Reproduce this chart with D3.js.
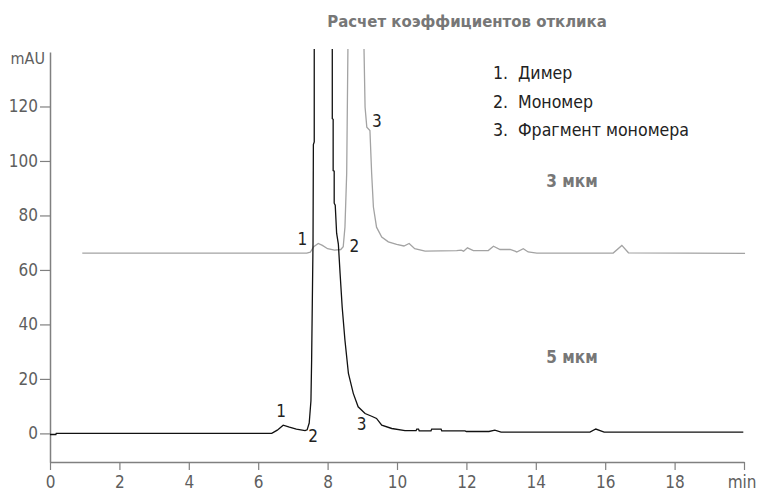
<!DOCTYPE html>
<html>
<head>
<meta charset="utf-8">
<script src="https://cdn.jsdelivr.net/npm/d3@7"></script>
<style>
  html, body { margin: 0; padding: 0; background: #fff; }
  svg { display: block; }
  text { font-family: "Liberation Sans Narrow", "DejaVu Sans Condensed", "Roboto", sans-serif; }
</style>
</head>
<body>
<svg id="chart" width="757" height="491"></svg>
<script>
// Retention times (min) and absorbance (mAU), 5 µm column trace
const time5 = [0.0, 0.17, 0.18, 6.39, 6.55, 6.72, 6.9, 7.1, 7.35, 7.41, 7.47, 7.52, 7.54, 7.58, 7.59, 7.615, 7.615,
  7.9, 8.135, 8.135, 8.16, 8.16, 8.19, 8.19, 8.22, 8.26, 8.31, 8.36, 8.42, 8.50, 8.60, 8.74, 8.88, 9.08, 9.27,
  9.41, 9.56, 9.85, 10.23,
  10.55, 10.57, 10.62, 10.64, 10.98, 11.0, 11.27, 11.29, 11.96, 12.0, 12.65, 12.82, 13.0, 15.56, 15.73, 15.97, 19.98];
const absorb5 = [-0.4, -0.4, 0.0, 0.0, 1.2, 3.0, 2.3, 1.6, 1.0, 1.3, 3.8, 12, 27, 70, 106, 107, 140.5,
  520, 140.5, 115.5, 115.3, 96.5, 96.3, 84.5, 83.8, 73.5, 69.5, 58.7, 46.4, 34.2, 22.0, 14.7, 9.75, 7.3, 6.3,
  5.5, 3.0, 1.8, 1.0,
  1.0, 1.6, 1.6, 0.95, 0.95, 1.6, 1.6, 0.95, 0.95, 0.7, 0.7, 1.2, 0.5, 0.5, 1.6, 0.5, 0.5];

// Retention times (min) and absorbance (mAU), 3 µm column trace
const time3 = [0.93, 7.4, 7.5, 7.6, 7.73, 7.85, 8.0, 8.2, 8.38, 8.45, 8.50, 8.55, 8.585, 8.82, 9.05, 9.08, 9.13, 9.22,
  9.27, 9.32, 9.41, 9.56, 9.75, 9.99, 10.2, 10.35, 10.51, 10.81, 11.72, 11.85, 11.92, 12.03, 12.2, 12.63, 12.78, 12.97,
  13.26, 13.4, 13.45, 13.64, 13.78, 14.03, 16.23, 16.48, 16.67, 20.03];
const absorb3 = [66.2, 66.2, 66.5, 68.5, 69.7, 69.0, 67.8, 67.3, 67.5, 68.5, 75.7, 95.4, 140.5, 500, 140.5, 119.7, 112.4, 111.2,
  95.3, 83.1, 75.7, 72.1, 70.3, 69.4, 68.8, 69.7, 67.8, 66.9, 67.1, 67.3, 66.9, 68.1, 67.1, 67.1, 68.7, 67.5,
  67.5, 66.9, 66.6, 67.8, 66.6, 66.2, 66.2, 69.0, 66.3, 66.1];

// Axis ticks
const xTicks = [0, 2, 4, 6, 8, 10, 12, 14, 16, 18, 20];
const yTicks = [0, 20, 40, 60, 80, 100, 120];

// Texts
const titleText = "Расчет коэффициентов отклика";
const legendNums = ["1.", "2.", "3."];
const legendNames = ["Димер", "Мономер", "Фрагмент мономера"];
const columnLabels = ["3 мкм", "5 мкм"];

// Peak number annotations, anchored in data units (min, mAU)
const peaks5 = [{t: 6.66, v: 6.0, n: "1"}, {t: 7.58, v: -3.0, n: "2"}, {t: 8.98, v: 1.2, n: "3"}];
const peaks3 = [{t: 7.27, v: 69.2, n: "1"}, {t: 8.77, v: 66.6, n: "2"}, {t: 9.42, v: 112.5, n: "3"}];

const svg = d3.select("#chart");
const x = d3.scaleLinear().domain([0, 20]).range([50, 744]);
const y = d3.scaleLinear().domain([-10.5, 140]).range([462, 52]);

const axisColor = "#808080";
const labelColor = "#5e5e5e";

// Clip traces to the plotting area
svg.append("defs").append("clipPath").attr("id", "plot")
  .append("rect").attr("x", 50).attr("y", 49).attr("width", 700).attr("height", 420);

// Y axis
const gy = svg.append("g").attr("transform", "translate(50,0)")
  .call(d3.axisLeft(y).tickValues(yTicks).tickSize(10).tickSizeOuter(0).tickPadding(2));
gy.select(".domain").attr("stroke", axisColor).attr("stroke-width", 1.5);
gy.selectAll(".tick line").attr("stroke", axisColor).attr("stroke-width", 1.2);
gy.selectAll(".tick text").attr("fill", labelColor).style("font-size", "17px");

svg.append("text").attr("x", 45).attr("y", 64).attr("text-anchor", "end")
  .attr("fill", labelColor).style("font-size", "16px").text("mAU");

// X axis; the last tick carries the unit instead of its number
const gx = svg.append("g").attr("transform", "translate(0,462)")
  .call(d3.axisBottom(x).tickValues(xTicks).tickSize(8).tickSizeOuter(0).tickPadding(6)
    .tickFormat(d => d === 20 ? "min" : d));
gx.select(".domain").attr("stroke", axisColor).attr("stroke-width", 1.5);
gx.selectAll(".tick line").attr("stroke", axisColor).attr("stroke-width", 1.2);
gx.selectAll(".tick text").attr("fill", labelColor).style("font-size", "17px");
gx.selectAll(".tick text").filter(d => d === 20)
  .attr("text-anchor", "end").attr("x", 12);

// Traces
const line = d3.line().x(d => x(d[0])).y(d => y(d[1]));
const traces = svg.append("g").attr("clip-path", "url(#plot)");
traces.append("path").datum(d3.zip(time3, absorb3))
  .attr("d", line).attr("fill", "none").attr("stroke", "#a3a3a3").attr("stroke-width", 1.3);
traces.append("path").datum(d3.zip(time5, absorb5))
  .attr("d", line).attr("fill", "none").attr("stroke", "#111").attr("stroke-width", 1.3);

// Peak numbers
function peakLabels(list) {
  svg.append("g").selectAll("text").data(list).join("text")
    .attr("x", d => x(d.t)).attr("y", d => y(d.v)).attr("text-anchor", "middle")
    .attr("fill", "#222").style("font-size", "17px").text(d => d.n);
}
peakLabels(peaks5);
peakLabels(peaks3);

// Title
svg.append("text").attr("x", 467).attr("y", 27).attr("text-anchor", "middle")
  .attr("fill", "#777").style("font-size", "16.6px").style("font-weight", "bold").text(titleText);

// Legend
const legend = svg.append("g");
legendNames.forEach((name, i) => {
  const row = legend.append("text").attr("y", 79 + i * 28.5).attr("fill", "#222").style("font-size", "17.6px");
  row.append("tspan").attr("x", 493).text(legendNums[i]);
  row.append("tspan").attr("x", 518).text(name);
});

// Column particle size labels
svg.append("text").attr("x", 572).attr("y", 187).attr("text-anchor", "middle")
  .attr("fill", "#777").style("font-size", "17px").style("font-weight", "bold").text(columnLabels[0]);
svg.append("text").attr("x", 572).attr("y", 363).attr("text-anchor", "middle")
  .attr("fill", "#777").style("font-size", "17px").style("font-weight", "bold").text(columnLabels[1]);
</script>
</body>
</html>
